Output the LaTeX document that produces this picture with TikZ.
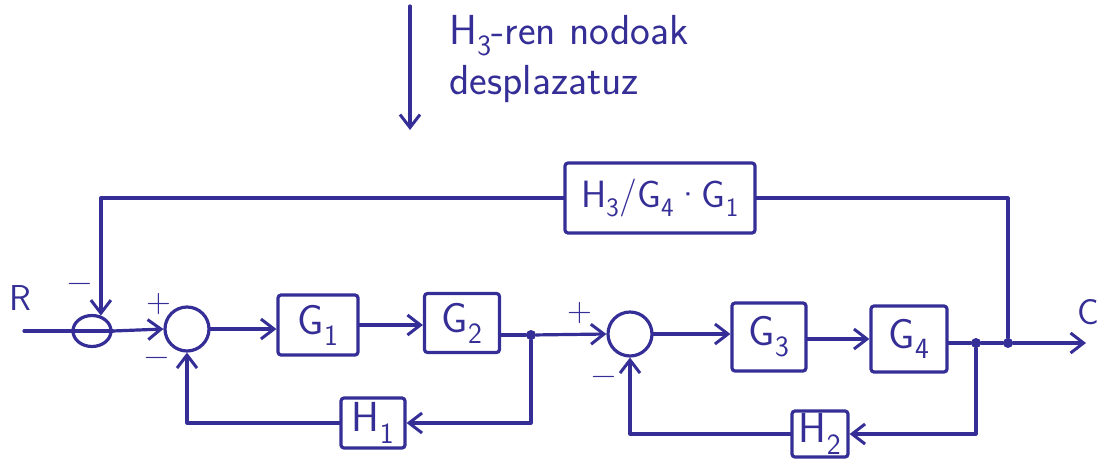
\documentclass[tikz,border=0pt]{standalone}
\usepackage{fontspec}
\usetikzlibrary{arrows.meta,shapes.geometric}
\definecolor{ink}{RGB}{52,46,150}
\begin{document}
\begin{tikzpicture}[x=1pt,y=-1pt,
  wire/.style={draw=ink,line width=3.2pt,line join=round,line cap=round},
  arr/.style={wire,-{Straight Barb[length=13pt,width=20pt,line width=3pt]}},
  every node/.style={text=ink},
  lbl/.style={font=\sffamily\fontsize{36}{40}\selectfont},
  sgn/.style={font=\sffamily\fontsize{34}{34}\selectfont},
  blk/.style={draw=ink,line width=3.2pt,rounded corners=3pt,inner sep=0pt,
              font=\sffamily\fontsize{42}{46}\selectfont},
  sumpt/.style={draw=ink,line width=3.2pt,circle,minimum size=44pt,inner sep=0pt},
  dotpt/.style={circle,fill=ink,draw=none,minimum size=10pt,inner sep=0pt}]
\useasboundingbox (0,0) rectangle (1100,459);

% annotation at the top
\coordinate (ta) at (410,6);
\coordinate (tb) at (410,130);
\draw[arr] (ta) -- (tb);
\node[anchor=north west,align=left,font=\sffamily\fontsize{42}{50}\selectfont]
  (note) at (446,12) {H\textsubscript{3}-ren nodoak\\desplazatuz};

% forward path
\node[lbl] (R) at (20,298) {R};
\coordinate (in) at (24,331);
\node[draw=ink,line width=3.2pt,ellipse,minimum width=38pt,minimum height=31pt,inner sep=0pt] (s0) at (92,331) {};
\node[sumpt] (s1) at (187,329) {};
\node[blk,minimum width=80pt,minimum height=60pt] (g1) at (318,325) {G\textsubscript{1}};
\node[blk,minimum width=75pt,minimum height=59pt] (g2) at (462,323) {G\textsubscript{2}};
\node[dotpt] (d1) at (531,335) {};
\node[sumpt] (s2) at (630,334) {};
\node[blk,minimum width=74pt,minimum height=68pt] (g3) at (769,337) {G\textsubscript{3}};
\node[blk,minimum width=76pt,minimum height=66pt] (g4) at (909,339) {G\textsubscript{4}};
\node[dotpt] (d2) at (976,343) {};
\node[dotpt] (d3) at (1008,343) {};
\coordinate (out) at (1086,343);
\node[lbl] (C) at (1088,312) {C};

\draw[wire] (in) -- (s0.west) -- (s0.east);
\draw[arr] (s0.east) -- (s1.west);
\draw[arr] (s1.east) -- (g1.west |- s1.east);
\draw[arr] (g1.east) -- (g2.west |- g1.east);
\draw[wire] (g2.east |- d1) -- (d1);
\draw[arr] (d1) -- (s2.west);
\draw[arr] (s2.east) -- (g3.west |- s2.east);
\draw[arr] (g3.east |- g4.west) -- (g4.west);
\draw[wire] (g4.east |- d2) -- (d2) -- (d3);
\draw[arr] (d3) -- (out);

% inner feedback loops
\node[blk,minimum width=64pt,minimum height=50pt] (h1) at (373,423) {H\textsubscript{1}};
\node[blk,minimum width=56pt,minimum height=46pt] (h2) at (820,434) {H\textsubscript{2}};
\draw[arr] (d1) |- (h1.east);
\draw[arr] (h1.west) -| (s1.south);
\draw[arr] (d2) |- (h2.east);
\draw[arr] (h2.west) -| (s2.south);

% outer feedback through H3/G4.G1
\node[blk,minimum width=190pt,minimum height=70pt,font=\sffamily\fontsize{38}{42}\selectfont] (h3) at (660,198)
  {H\textsubscript{3}/G\textsubscript{4}·G\textsubscript{1}};
\draw[wire] (d3) |- (h3.east);
\draw[arr] (h3.west) -| (s0.60);

% signs at the summing points
\node[sgn] (m0) at (80,288) {−};
\node[sgn] (p1) at (159,304) {+};
\node[sgn] (m1) at (157,362) {−};
\node[sgn] (p2) at (580,313) {+};
\node[sgn] (m2) at (604,381) {−};
\end{tikzpicture}
\end{document}
